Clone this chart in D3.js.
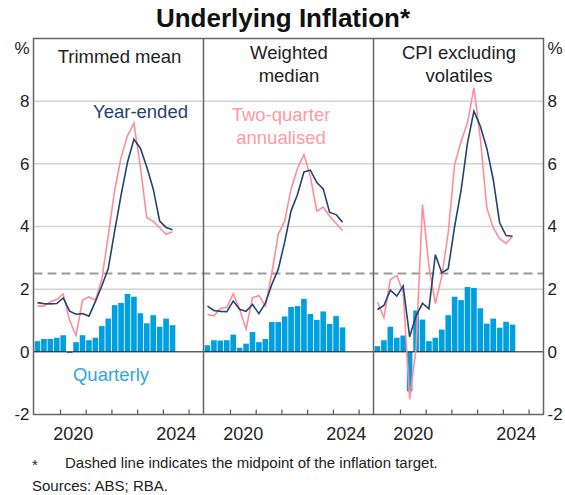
<!DOCTYPE html>
<html>
<head>
<meta charset="utf-8">
<script src="https://cdn.jsdelivr.net/npm/d3@7"></script>
<style>
  body { margin: 0; background: #fff; }
  text { font-family: "Liberation Sans", Arial, sans-serif; }
</style>
</head>
<body>
<script>
// quarters shown on each panel (bars and line points)
var quarters = ["2019-Q1","2019-Q2","2019-Q3","2019-Q4",
                "2020-Q1","2020-Q2","2020-Q3","2020-Q4",
                "2021-Q1","2021-Q2","2021-Q3","2021-Q4",
                "2022-Q1","2022-Q2","2022-Q3","2022-Q4",
                "2023-Q1","2023-Q2","2023-Q3","2023-Q4",
                "2024-Q1","2024-Q2"];

// Trimmed mean
var tmQuarterly = [0.34, 0.41, 0.41, 0.45, 0.53, -0.04, 0.31, 0.53, 0.37, 0.45, 0.82, 1.06, 1.49, 1.56, 1.85, 1.76, 1.23, 0.91, 1.17, 0.80, 1.06, 0.85];
var tmYearEnded = [1.57, 1.54, 1.53, 1.54, 1.72, 1.30, 1.20, 1.22, 1.14, 1.60, 2.10, 2.65, 3.85, 5.00, 6.05, 6.78, 6.50, 5.90, 5.20, 4.17, 3.97, 3.90];
var tmTwoQtr    = [1.46, 1.46, 1.60, 1.67, 1.85, 1.00, 0.52, 1.65, 1.75, 1.65, 2.30, 3.70, 5.15, 6.20, 6.90, 7.30, 5.90, 4.28, 4.17, 3.96, 3.75, 3.83];

// Weighted median
var wmQuarterly = [0.21, 0.37, 0.36, 0.37, 0.55, 0.13, 0.26, 0.63, 0.31, 0.41, 0.95, 0.95, 1.13, 1.43, 1.46, 1.69, 1.21, 1.02, 1.29, 0.89, 1.14, 0.78];
var wmYearEnded = [1.46, 1.32, 1.29, 1.28, 1.62, 1.36, 1.29, 1.51, 1.22, 1.55, 2.15, 2.63, 3.50, 4.50, 5.02, 5.74, 5.80, 5.40, 5.20, 4.45, 4.38, 4.14];
var wmTwoQtr    = [1.19, 1.15, 1.38, 1.42, 1.85, 1.36, 0.72, 1.72, 1.80, 1.46, 2.50, 3.75, 4.17, 5.20, 5.85, 6.30, 5.60, 4.49, 4.62, 4.33, 4.10, 3.87];

// CPI excluding volatiles
var cxQuarterly = [0.18, 0.37, 0.80, 0.45, 0.52, -1.26, 1.32, 1.03, 0.34, 0.45, 0.71, 1.17, 1.76, 1.65, 2.07, 2.04, 1.39, 0.90, 1.06, 0.77, 0.96, 0.87];
var cxYearEnded = [1.35, 1.48, 1.97, 1.78, 2.10, 0.48, 1.15, 1.55, 1.37, 3.10, 2.52, 2.65, 4.00, 5.15, 6.67, 7.68, 7.20, 6.50, 5.50, 4.12, 3.71, 3.69];
var cxTwoQtr    = [1.59, 1.09, 2.31, 2.44, 1.90, -1.52, 0.10, 4.70, 2.73, 1.54, 2.41, 3.80, 5.98, 6.72, 7.31, 8.43, 6.80, 4.60, 3.96, 3.61, 3.46, 3.69];

var panelTitles = [["Trimmed mean"], ["Weighted", "median"], ["CPI excluding", "volatiles"]];
var yTicks = [-2, 0, 2, 4, 6, 8];
var gridValues = [2, 4, 6, 8];
var targetMid = 2.5;
var yearTicks = [2020, 2021, 2022, 2023, 2024, 2025];
var yearLabels = [2020, 2024];

var navy = "#234375", pink = "#ff8d99", barBlue = "#009fdf";

var panels = [
  { title: panelTitles[0], quarterly: tmQuarterly, yearEnded: tmYearEnded, twoQtr: tmTwoQtr },
  { title: panelTitles[1], quarterly: wmQuarterly, yearEnded: wmYearEnded, twoQtr: wmTwoQtr },
  { title: panelTitles[2], quarterly: cxQuarterly, yearEnded: cxYearEnded, twoQtr: cxTwoQtr }
];

// "2019-Q3" -> 2019.5 (start of quarter)
function qStart(q) {
  return +q.slice(0, 4) + (+q.slice(6) - 1) / 4;
}

var width = 565, height = 495;
// note: can't call it "top", that's window.top
var plotLeft = 33.5, panelWidth = 170, plotTop = 38.5, plotBottom = 414.5;
var plotRight = plotLeft + panelWidth * 3;

var svg = d3.select("body").append("svg")
  .attr("width", width)
  .attr("height", height);

var y = d3.scaleLinear().domain([-2, 10]).range([plotBottom, plotTop]);

// title
svg.append("text")
  .attr("x", 283)
  .attr("y", 27)
  .attr("text-anchor", "middle")
  .style("font-size", "26px")
  .style("font-weight", "bold")
  .attr("fill", "#111")
  .text("Underlying Inflation*");

// gridlines across all panels
svg.selectAll(".grid").data(gridValues).enter().append("line")
  .attr("x1", plotLeft).attr("x2", plotRight)
  .attr("y1", function(d) { return y(d); })
  .attr("y2", function(d) { return y(d); })
  .attr("stroke", "#d2d2d2")
  .attr("stroke-width", 1.5);

// dashed line at the midpoint of target
svg.append("line")
  .attr("x1", plotLeft).attr("x2", plotRight)
  .attr("y1", y(targetMid)).attr("y2", y(targetMid))
  .attr("stroke", "#9a9a9a")
  .attr("stroke-width", 2)
  .attr("stroke-dasharray", "9,5");

panels.forEach(function(p, i) {
  var x0 = plotLeft + i * panelWidth;
  var x = d3.scaleLinear().domain([2018.97, 2025.58]).range([x0, x0 + panelWidth]);

  var rows = quarters.map(function(q, k) {
    return { t: qStart(q), q: p.quarterly[k], ye: p.yearEnded[k], tq: p.twoQtr[k] };
  });

  var g = svg.append("g");

  // quarterly bars
  g.selectAll("rect").data(rows).enter().append("rect")
    .attr("x", function(d) { return x(d.t) + 0.4; })
    .attr("width", function(d) { return x(d.t + 0.25) - x(d.t) - 0.8; })
    .attr("y", function(d) { return y(Math.max(0, d.q)); })
    .attr("height", function(d) { return Math.abs(y(d.q) - y(0)); })
    .attr("fill", barBlue);

  // zero line
  g.append("line")
    .attr("x1", x0).attr("x2", x0 + panelWidth)
    .attr("y1", y(0)).attr("y2", y(0))
    .attr("stroke", "#111")
    .attr("stroke-width", 1);

  var lineYE = d3.line()
    .x(function(d) { return x(d.t + 0.125); })
    .y(function(d) { return y(d.ye); });
  var lineTQ = d3.line()
    .x(function(d) { return x(d.t + 0.125); })
    .y(function(d) { return y(d.tq); });

  g.append("path").datum(rows)
    .attr("fill", "none")
    .attr("stroke", pink)
    .attr("stroke-width", 1.6)
    .attr("d", lineTQ);

  g.append("path").datum(rows)
    .attr("fill", "none")
    .attr("stroke", navy)
    .attr("stroke-width", 1.6)
    .attr("d", lineYE);

  // year ticks pointing inward
  var ticks = g.append("g")
    .attr("transform", "translate(0," + plotBottom + ")")
    .call(d3.axisBottom(x).tickValues(yearTicks).tickSizeInner(-5).tickSizeOuter(0).tickFormat(""));
  ticks.select(".domain").remove();
  ticks.selectAll("line").attr("stroke", "#555").attr("stroke-width", 1.2);

  // year labels in the middle of the year
  var labs = g.append("g")
    .attr("transform", "translate(0," + plotBottom + ")")
    .call(d3.axisBottom(x).tickValues(yearLabels.map(function(v) { return v + 0.5; }))
      .tickSize(0).tickPadding(13)
      .tickFormat(function(d) { return String(Math.floor(d)); }));
  labs.select(".domain").remove();
  labs.selectAll("text")
    .style("font-size", "18px")
    .style("font-family", '"Liberation Sans", Arial, sans-serif')
    .attr("fill", "#222");

  // panel title
  var t = g.append("text")
    .attr("text-anchor", "middle")
    .style("font-size", "18.5px")
    .attr("fill", "#222");
  p.title.forEach(function(line, k) {
    t.append("tspan")
      .attr("x", x0 + panelWidth / 2 + (i === 0 ? 1 : 0.5))
      .attr("y", (p.title.length === 1 ? 63 : 59) + k * 22.5)
      .text(line);
  });
});

// frame and panel dividers
svg.append("rect")
  .attr("x", plotLeft).attr("y", plotTop)
  .attr("width", plotRight - plotLeft).attr("height", plotBottom - plotTop)
  .attr("fill", "none")
  .attr("stroke", "#666")
  .attr("stroke-width", 1.5);

svg.selectAll(".divider").data([1, 2]).enter().append("line")
  .attr("x1", function(d) { return plotLeft + d * panelWidth; })
  .attr("x2", function(d) { return plotLeft + d * panelWidth; })
  .attr("y1", plotTop).attr("y2", plotBottom)
  .attr("stroke", "#666")
  .attr("stroke-width", 1.5);

// y axis labels, both sides
var yl = svg.append("g")
  .attr("transform", "translate(" + plotLeft + ",0)")
  .call(d3.axisLeft(y).tickValues(yTicks).tickSize(0).tickPadding(4)
    .tickFormat(function(d) { return String(d); }));
var yr = svg.append("g")
  .attr("transform", "translate(" + plotRight + ",0)")
  .call(d3.axisRight(y).tickValues(yTicks).tickSize(0).tickPadding(4)
    .tickFormat(function(d) { return String(d); }));
[yl, yr].forEach(function(a) {
  a.select(".domain").remove();
  a.selectAll("text")
    .style("font-size", "17px")
    .style("font-family", '"Liberation Sans", Arial, sans-serif')
    .attr("fill", "#222");
});

svg.append("text").attr("x", 29.5).attr("y", 54).attr("text-anchor", "end")
  .style("font-size", "17px").attr("fill", "#222").text("%");
svg.append("text").attr("x", 547.5).attr("y", 54)
  .style("font-size", "17px").attr("fill", "#222").text("%");

// series labels
svg.append("text")
  .attr("x", 140.5).attr("y", 118)
  .attr("text-anchor", "middle")
  .style("font-size", "18.5px")
  .attr("fill", navy)
  .text("Year-ended");

var tq = svg.append("text")
  .attr("text-anchor", "middle")
  .style("font-size", "18.5px")
  .attr("fill", "#ff9aa5");
tq.append("tspan").attr("x", 281).attr("y", 121).text("Two-quarter");
tq.append("tspan").attr("x", 281).attr("y", 143.5).text("annualised");

svg.append("text")
  .attr("x", 111).attr("y", 381)
  .attr("text-anchor", "middle")
  .style("font-size", "18.5px")
  .attr("fill", "#2ea6e0")
  .text("Quarterly");

// footnotes
svg.append("text").attr("x", 32).attr("y", 470)
  .style("font-size", "15px").attr("fill", "#222").text("*");
svg.append("text").attr("x", 65).attr("y", 468)
  .style("font-size", "15px").attr("fill", "#222")
  .text("Dashed line indicates the midpoint of the inflation target.");
svg.append("text").attr("x", 32).attr("y", 491)
  .style("font-size", "15px").attr("fill", "#222")
  .text("Sources: ABS; RBA.");
</script>
</body>
</html>
